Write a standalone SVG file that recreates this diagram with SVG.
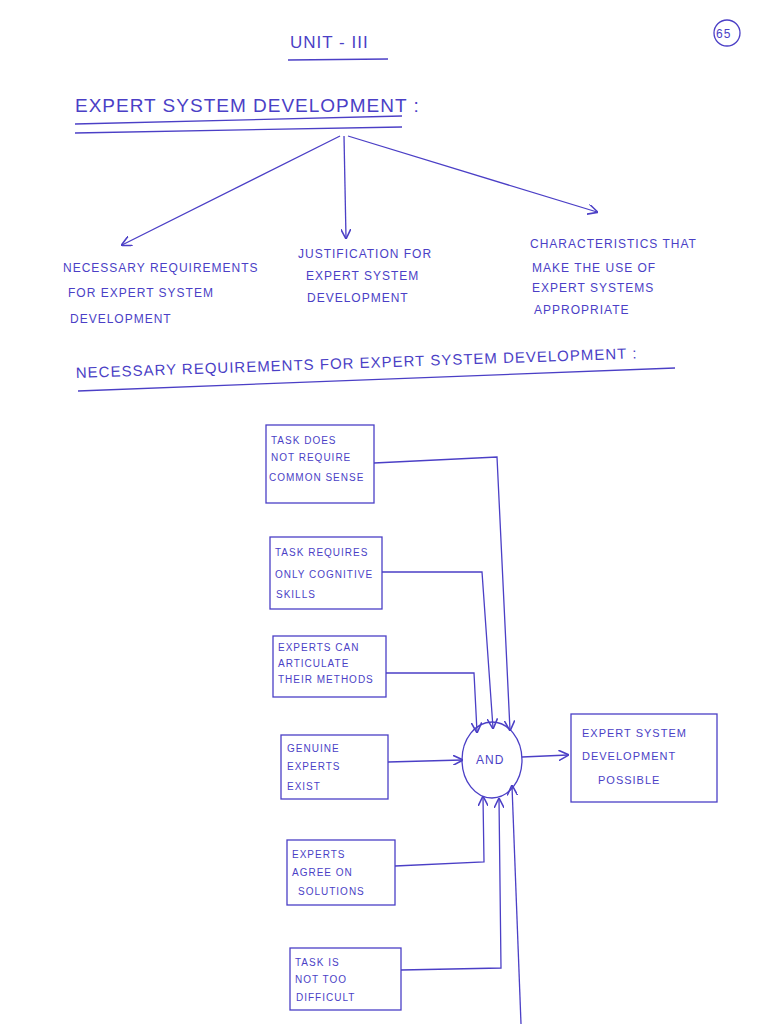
<svg xmlns="http://www.w3.org/2000/svg" width="768" height="1024" viewBox="0 0 768 1024">
<style>
text{font-family:"Liberation Sans",Arial,sans-serif;fill:#4b3fc6;font-size:12px;letter-spacing:1px}
.h{font-size:17px}
.ln{stroke:#4b3fc6;stroke-width:1.3;fill:none}
.bx{stroke:#4b3fc6;stroke-width:1.3;fill:none}
</style>
<defs><marker id="a" viewBox="0 0 10 10" refX="9" refY="5" markerWidth="8" markerHeight="8" orient="auto"><path d="M0,0 L10,5 L0,10" fill="none" stroke="#4b3fc6" stroke-width="1.5"/></marker></defs>
<rect width="768" height="1024" fill="#fff"/>
<g id="header">
<text x="290" y="48" class="h">UNIT - III</text>
<line class="ln" x1="288" y1="60" x2="388" y2="59"/>
<circle class="ln" cx="727" cy="33" r="13"/>
<text x="716" y="38" style="font-size:12px">65</text>
<text x="75" y="112" class="h" style="font-size:19px">EXPERT  SYSTEM  DEVELOPMENT :</text>
<line class="ln" x1="75" y1="124" x2="402" y2="116"/>
<line class="ln" x1="75" y1="133" x2="402" y2="127"/>
</g>
<g id="top-arrows">
<line class="ln" x1="340" y1="136" x2="122" y2="245" marker-end="url(#a)"/>
<line class="ln" x1="344" y1="136" x2="346" y2="238" marker-end="url(#a)"/>
<line class="ln" x1="348" y1="136" x2="597" y2="212" marker-end="url(#a)"/>
</g>
<g id="col1"><text x="63" y="272">NECESSARY REQUIREMENTS</text><text x="68" y="297">FOR EXPERT SYSTEM</text><text x="70" y="323">DEVELOPMENT</text></g>
<g id="col2"><text x="298" y="258">JUSTIFICATION FOR</text><text x="306" y="280">EXPERT SYSTEM</text><text x="307" y="302">DEVELOPMENT</text></g>
<g id="col3"><text x="530" y="248">CHARACTERISTICS THAT</text><text x="532" y="272">MAKE THE USE OF</text><text x="532" y="292">EXPERT SYSTEMS</text><text x="534" y="314">APPROPRIATE</text></g>
<g id="sub"><text x="76" y="378" transform="rotate(-2 76 378)" style="font-size:15px">NECESSARY  REQUIREMENTS  FOR  EXPERT  SYSTEM  DEVELOPMENT :</text>
<line class="ln" x1="78" y1="391" x2="675" y2="368"/></g>
<g id="n1"><rect class="bx" x="266" y="425" width="108" height="78"/><text x="271" y="444" style="font-size:10px">TASK DOES</text><text x="271" y="461" style="font-size:10px">NOT REQUIRE</text><text x="269" y="481" style="font-size:10px">COMMON SENSE</text></g>
<g id="n2"><rect class="bx" x="270" y="537" width="112" height="72"/><text x="275" y="556" style="font-size:10px">TASK REQUIRES</text><text x="275" y="578" style="font-size:10px">ONLY COGNITIVE</text><text x="276" y="598" style="font-size:10px">SKILLS</text></g>
<g id="n3"><rect class="bx" x="273" y="636" width="113" height="61"/><text x="278" y="651" style="font-size:10px">EXPERTS CAN</text><text x="278" y="667" style="font-size:10px">ARTICULATE</text><text x="278" y="683" style="font-size:10px">THEIR METHODS</text></g>
<g id="n4"><rect class="bx" x="281" y="735" width="107" height="64"/><text x="287" y="752" style="font-size:10px">GENUINE</text><text x="287" y="770" style="font-size:10px">EXPERTS</text><text x="287" y="790" style="font-size:10px">EXIST</text></g>
<g id="n5"><rect class="bx" x="287" y="840" width="108" height="65"/><text x="292" y="858" style="font-size:10px">EXPERTS</text><text x="292" y="876" style="font-size:10px">AGREE ON</text><text x="298" y="895" style="font-size:10px">SOLUTIONS</text></g>
<g id="n6"><rect class="bx" x="290" y="948" width="111" height="62"/><text x="295" y="966" style="font-size:10px">TASK IS</text><text x="295" y="983" style="font-size:10px">NOT TOO</text><text x="296" y="1001" style="font-size:10px">DIFFICULT</text></g>
<g id="and"><ellipse class="bx" cx="492" cy="760" rx="30" ry="38"/><text x="476" y="764" style="font-size:12px">AND</text></g>
<g id="out"><rect class="bx" x="571" y="714" width="146" height="88"/><text x="582" y="737" style="font-size:11px">EXPERT  SYSTEM</text><text x="582" y="760" style="font-size:11px">DEVELOPMENT</text><text x="598" y="784" style="font-size:11px">POSSIBLE</text></g>
<g id="connectors">
<polyline class="ln" points="374,463 497,457 510,730" marker-end="url(#a)"/>
<polyline class="ln" points="382,572 482,572 493,728" marker-end="url(#a)"/>
<polyline class="ln" points="386,673 474,673 477,732" marker-end="url(#a)"/>
<line class="ln" x1="388" y1="762" x2="462" y2="760" marker-end="url(#a)"/>
<polyline class="ln" points="395,866 484,862 483,797" marker-end="url(#a)"/>
<polyline class="ln" points="401,970 501,968 499,799" marker-end="url(#a)"/>
<line class="ln" x1="521" y1="1024" x2="512" y2="786" marker-end="url(#a)"/>
<line class="ln" x1="522" y1="757" x2="568" y2="755" marker-end="url(#a)"/>
</g>
</svg>
